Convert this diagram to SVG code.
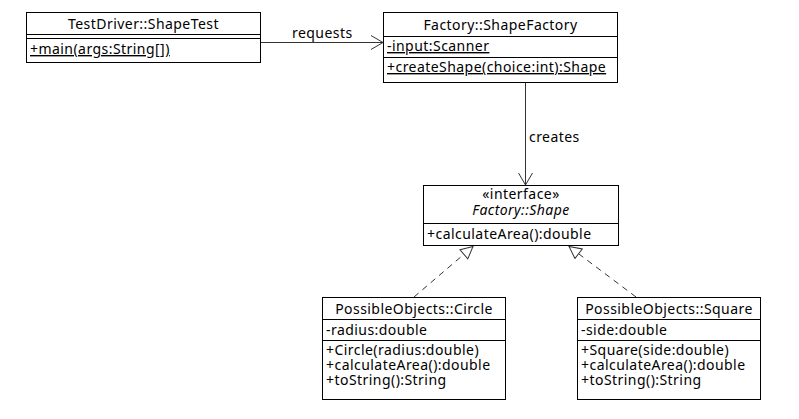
<svg xmlns="http://www.w3.org/2000/svg" width="799" height="419" viewBox="0 0 799 419">
<style>
.box{fill:#fff;stroke:#000;stroke-width:1}
.sep{stroke:#000;stroke-width:1}
text{font-family:"Noto Sans","Open Sans",sans-serif;font-size:14px;letter-spacing:0.45px;fill:#000}
.c{text-anchor:middle}
.u{text-decoration:underline}
.i{font-style:italic}
.edge{fill:none;stroke:#333;stroke-width:1}
.dash{stroke-dasharray:6,5}
</style>
<defs>
<marker id="open" markerWidth="14" markerHeight="16" refX="13" refY="8" orient="auto" markerUnits="userSpaceOnUse">
<path d="M1,1 L13,8 L1,15" fill="none" stroke="#333" stroke-width="1"/>
</marker>
<marker id="tri" markerWidth="14" markerHeight="14" refX="13" refY="7" orient="auto" markerUnits="userSpaceOnUse">
<path d="M1,1 L13,7 L1,13 Z" fill="#fff" stroke="#333" stroke-width="1"/>
</marker>
</defs>
<g id="connectors">
<line class="edge" x1="261" y1="42.5" x2="383" y2="42.5" marker-end="url(#open)"/>
<text x="292" y="38">requests</text>
<line class="edge" x1="525.5" y1="83" x2="525.5" y2="185" marker-end="url(#open)"/>
<text x="529" y="142">creates</text>
<line class="edge dash" x1="414" y1="297" x2="473" y2="246.5" marker-end="url(#tri)"/>
<line class="edge dash" x1="636" y1="297" x2="569" y2="246.5" marker-end="url(#tri)"/>
</g>
<g id="ShapeTest">
<rect class="box" x="26.5" y="12.5" width="234" height="50"/>
<line class="sep" x1="26.5" y1="34.5" x2="260.5" y2="34.5"/>
<line class="sep" x1="26.5" y1="38.5" x2="260.5" y2="38.5"/>
<text class="c" x="143.5" y="29">TestDriver::ShapeTest</text>
<text class="u" x="30" y="54">+main(args:String[])</text>
</g>
<g id="ShapeFactory">
<rect class="box" x="383.5" y="12.5" width="234" height="70"/>
<line class="sep" x1="383.5" y1="36.5" x2="617.5" y2="36.5"/>
<line class="sep" x1="383.5" y1="57.5" x2="617.5" y2="57.5"/>
<text class="c" x="500.5" y="30">Factory::ShapeFactory</text>
<text class="u" x="387" y="51">-input:Scanner</text>
<text class="u" x="387" y="72">+createShape(choice:int):Shape</text>
</g>
<g id="Shape">
<rect class="box" x="423.5" y="185.5" width="195" height="60"/>
<line class="sep" x1="423.5" y1="223.5" x2="618.5" y2="223.5"/>
<text class="c" x="521" y="199">«interface»</text>
<text class="c i" x="521" y="215">Factory::Shape</text>
<text x="427" y="239">+calculateArea():double</text>
</g>
<g id="Circle">
<rect class="box" x="322.5" y="297.5" width="183" height="102"/>
<line class="sep" x1="322.5" y1="319.5" x2="505.5" y2="319.5"/>
<line class="sep" x1="322.5" y1="340.5" x2="505.5" y2="340.5"/>
<text class="c" x="414" y="314">PossibleObjects::Circle</text>
<text x="326" y="335">-radius:double</text>
<text x="326" y="355">+Circle(radius:double)</text>
<text x="326" y="370">+calculateArea():double</text>
<text x="326" y="385">+toString():String</text>
</g>
<g id="Square">
<rect class="box" x="577.5" y="297.5" width="183" height="102"/>
<line class="sep" x1="577.5" y1="319.5" x2="760.5" y2="319.5"/>
<line class="sep" x1="577.5" y1="340.5" x2="760.5" y2="340.5"/>
<text class="c" x="669" y="314">PossibleObjects::Square</text>
<text x="581" y="335">-side:double</text>
<text x="581" y="355">+Square(side:double)</text>
<text x="581" y="370">+calculateArea():double</text>
<text x="581" y="385">+toString():String</text>
</g>
</svg>
